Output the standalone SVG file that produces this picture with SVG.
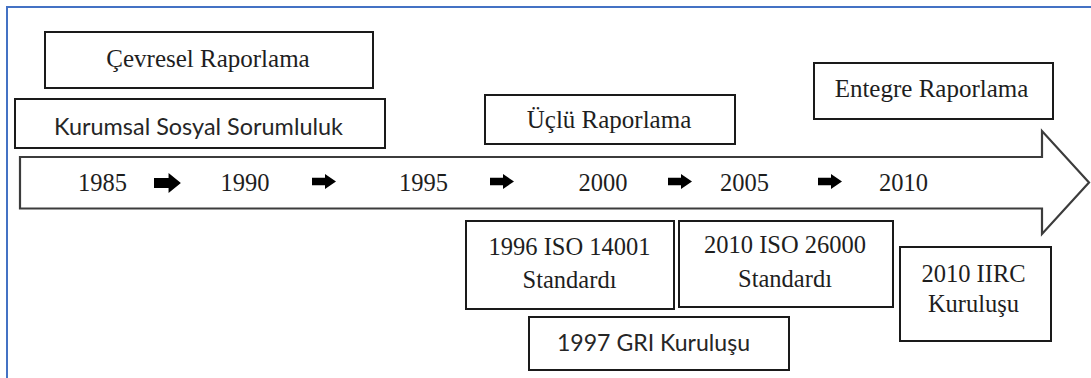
<svg xmlns="http://www.w3.org/2000/svg" xmlns:xlink="http://www.w3.org/1999/xlink" width="1091" height="378" viewBox="0 0 1091 378">
<style>
.box{fill:#fff;stroke:#1a1a1a;stroke-width:2}
.serif{font-family:"Liberation Serif","Times New Roman",serif;fill:#1e1e1e;text-anchor:middle}
.sans{font-family:Lato,"Liberation Sans",Arial,sans-serif;fill:#262626}
.lbl{font-size:25px}
.yr{font-size:24.5px}
.sm{font-size:24.5px}
.blk{fill:#000}
</style>
<defs>
<polygon id="blk" points="0,-3.8 13,-3.8 13,-7.5 24,0 13,7.5 13,3.8 0,3.8"/>
</defs>
<rect x="0" y="0" width="1091" height="378" fill="#fff"/>
<path d="M7,378 V7 H1091" fill="none" stroke="#4472c4" stroke-width="2"/>

<g id="timeline">
<polygon points="20,157 1042,157 1042,131 1089,182.5 1042,234 1042,208.5 20,208.5" fill="#fff" stroke="#3c3c3c" stroke-width="2.2" stroke-linejoin="miter"/>
<text class="serif yr" x="102.5" y="190.5">1985</text>
<text class="serif yr" x="245" y="190.5">1990</text>
<text class="serif yr" x="423.5" y="190.5">1995</text>
<text class="serif yr" x="603" y="190.5">2000</text>
<text class="serif yr" x="744.5" y="190.5">2005</text>
<text class="serif yr" x="903.5" y="190.5">2010</text>
</g>

<g id="connectors">
<use xlink:href="#blk" class="blk" transform="translate(154,183) scale(1.12,1.33)"/>
<use xlink:href="#blk" class="blk" transform="translate(312,181.5)"/>
<use xlink:href="#blk" class="blk" transform="translate(490,181.5)"/>
<use xlink:href="#blk" class="blk" transform="translate(668,181.5)"/>
<use xlink:href="#blk" class="blk" transform="translate(818,181.5)"/>
</g>

<g id="cevresel">
<rect class="box" x="45" y="32" width="328" height="56"/>
<text class="serif lbl" x="208" y="67">Çevresel Raporlama</text>
</g>

<g id="kurumsal">
<rect class="box" x="15" y="99" width="370" height="49"/>
<text class="sans" font-size="23" x="54" y="135" textLength="289" lengthAdjust="spacingAndGlyphs">Kurumsal Sosyal Sorumluluk</text>
</g>

<g id="uclu">
<rect class="box" x="485" y="95" width="250" height="49"/>
<text class="serif lbl" x="609" y="128">Üçlü Raporlama</text>
</g>

<g id="entegre">
<rect class="box" x="814" y="63" width="239" height="56"/>
<text class="serif lbl" x="931.5" y="97">Entegre Raporlama</text>
</g>

<g id="iso14001">
<rect class="box" x="466" y="221" width="208" height="88"/>
<text class="serif sm" x="569.5" y="255">1996 ISO 14001</text>
<text class="serif sm" x="569.5" y="288">Standardı</text>
</g>

<g id="iso26000">
<rect class="box" x="679" y="221" width="214" height="86"/>
<text class="serif sm" x="785" y="253">2010 ISO 26000</text>
<text class="serif sm" x="785" y="287">Standardı</text>
</g>

<g id="iirc">
<rect class="box" x="900" y="247" width="151" height="94"/>
<text class="serif sm" x="973.5" y="282">2010 IIRC</text>
<text class="serif sm" x="973.5" y="312">Kuruluşu</text>
</g>

<g id="gri">
<rect class="box" x="529" y="317" width="260" height="53"/>
<text class="sans" font-size="23" x="557" y="351" textLength="193" lengthAdjust="spacingAndGlyphs">1997 GRI Kuruluşu</text>
</g>
</svg>
